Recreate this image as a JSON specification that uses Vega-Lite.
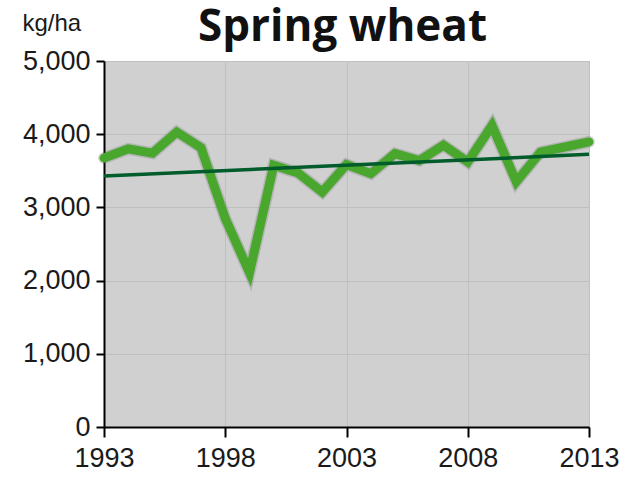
{
  "$schema": "https://vega.github.io/schema/vega-lite/v6.json",
  "autosize": "none",
  "width": 485,
  "height": 366,
  "padding": {"left": 104, "top": 61, "right": 37, "bottom": 63},
  "background": "white",
  "title": {
    "text": "Spring wheat",
    "font": "Open Sans",
    "fontWeight": "bold",
    "fontSize": 44,
    "color": "#111111",
    "anchor": "middle",
    "frame": "group",
    "baseline": "alphabetic",
    "offset": 0,
    "dx": -4,
    "dy": 74
  },
  "data": {
    "values": [
      {"year": 1993, "yield": 3675},
      {"year": 1994, "yield": 3800},
      {"year": 1995, "yield": 3740},
      {"year": 1996, "yield": 4030},
      {"year": 1997, "yield": 3815},
      {"year": 1998, "yield": 2850},
      {"year": 1999, "yield": 2110},
      {"year": 2000, "yield": 3575},
      {"year": 2001, "yield": 3470},
      {"year": 2002, "yield": 3210},
      {"year": 2003, "yield": 3585},
      {"year": 2004, "yield": 3460},
      {"year": 2005, "yield": 3735},
      {"year": 2006, "yield": 3640},
      {"year": 2007, "yield": 3850},
      {"year": 2008, "yield": 3620},
      {"year": 2009, "yield": 4120},
      {"year": 2010, "yield": 3350},
      {"year": 2011, "yield": 3755},
      {"year": 2012, "yield": 3825},
      {"year": 2013, "yield": 3895}
    ]
  },
  "config": {
    "view": {"fill": "#d0d0d0", "stroke": "#c4c4c4"},
    "axis": {
      "labelFont": "Liberation Sans",
      "labelFontSize": 27,
      "labelColor": "#1a1a1a",
      "domainColor": "#000000",
      "domainWidth": 2,
      "tickColor": "#000000",
      "tickWidth": 2,
      "gridColor": "#bfbfbf",
      "gridWidth": 1
    }
  },
  "encoding": {
    "x": {
      "field": "year",
      "type": "quantitative",
      "scale": {"domain": [1993, 2013], "nice": false, "zero": false},
      "axis": {
        "values": [1993, 1998, 2003, 2008, 2013],
        "format": "d",
        "title": null,
        "tickSize": 10,
        "labelPadding": 8,
        "labelFlush": false
      }
    },
    "y": {
      "field": "yield",
      "type": "quantitative",
      "scale": {"domain": [0, 5000], "nice": false},
      "axis": {
        "values": [0, 1000, 2000, 3000, 4000, 5000],
        "format": ",d",
        "tickSize": 8,
        "labelPadding": 6,
        "title": "kg/ha",
        "titleFont": "Liberation Sans",
        "titleFontSize": 24,
        "titleFontWeight": "normal",
        "titleColor": "#1a1a1a",
        "titleAngle": 0,
        "titleAlign": "left",
        "titleBaseline": "alphabetic",
        "titleX": -82,
        "titleY": -31
      }
    }
  },
  "layer": [
    {
      "mark": {"type": "line", "color": "#555555", "opacity": 0.22, "strokeWidth": 12, "strokeJoin": "miter", "strokeCap": "round"}
    },
    {
      "mark": {"type": "line", "color": "#49a72e", "strokeWidth": 9, "strokeJoin": "miter", "strokeCap": "round"}
    },
    {
      "transform": [{"regression": "yield", "on": "year", "extent": [1993, 2013]}],
      "mark": {"type": "line", "color": "#005c2a", "strokeWidth": 3.5}
    }
  ]
}
